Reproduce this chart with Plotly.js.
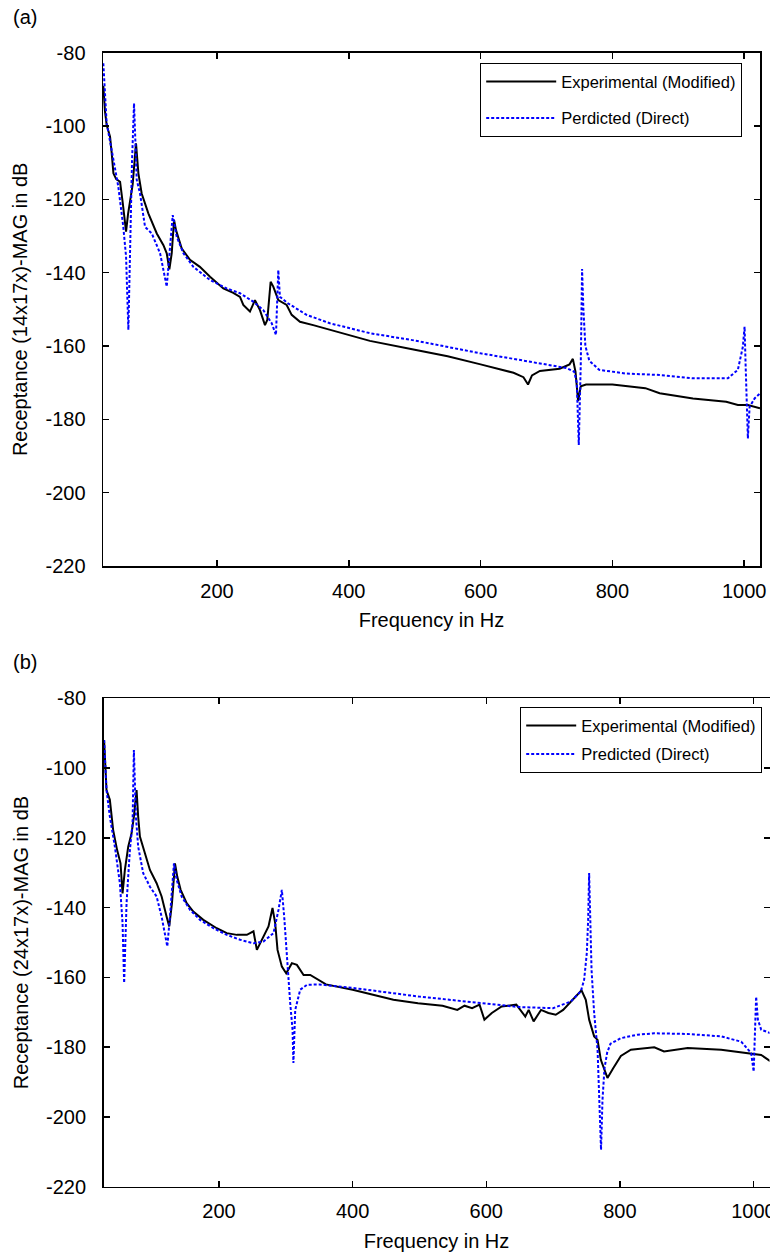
<!DOCTYPE html>
<html>
<head>
<meta charset="utf-8">
<script src="https://cdn.plot.ly/plotly-3.0.1.min.js"></script>
<style>html,body{margin:0;padding:0;background:#fff;}#chart{width:770px;height:1257px;}</style>
</head>
<body>
<div id="chart"></div>
<script>
// ---------- Panel (a) data ----------
const freqA_exp = [27.5,30,32.6,35,37.7,40,42.8,47,52.9,57,62,65,68,72,77.1,80.7,85.7,95.8,108.6,118.7,123.7,127.7,131.3,134.8,137.8,146.5,159,174,189.4,209.6,224.7,234.9,239.9,250,257.6,265.2,272.8,276.3,281.4,285.4,293,305.7,313.3,325.9,346,371.3,411.8,432,500,550,600,630,650,665,672,678,690,720,735,740,744,748,752,760,800,850,871.7,922.2,972.8,990.4,1005.6,1024];
const magA_exp  = [-89,-96,-99.7,-101.5,-102.9,-107,-112.9,-114.5,-115.2,-121,-128.8,-124,-120.2,-116,-104.7,-112.9,-118.4,-123.8,-129.3,-132.5,-134.7,-139.1,-134.7,-125.6,-128.4,-133.4,-136.5,-138.4,-141.1,-144.3,-145.5,-146.6,-148.8,-150.6,-147.5,-150.2,-154.3,-152.9,-142.5,-143.8,-147.5,-148.8,-151.5,-153.4,-154.3,-155.6,-157.5,-158.6,-161,-162.8,-165,-166.5,-167.3,-168.5,-170.5,-168,-166.8,-166.2,-165,-163.5,-167,-175,-171,-170.5,-170.5,-171.5,-172.9,-174.3,-175.2,-176.1,-176.1,-177];
const freqA_pred = [27.5,32.6,40.1,50.2,57.8,62,65.5,68,71,74.1,78.2,83.2,90.8,101,113.6,123.7,132.8,138.9,149,164.1,189.4,214.7,234.9,255,270.2,283,289.5,293,295.5,308.1,336,371.3,432,500,600,650,700,730,742,746,749,752,754,756,759,765,780,820,871.7,922.2,975.3,990.4,998,1000.6,1002.1,1005.6,1008.2,1015.8,1024];
const magA_pred  = [-82.9,-99.3,-106.5,-116.5,-127.5,-135.6,-155.6,-131.1,-110,-93.8,-114.7,-118.4,-127.5,-129.3,-134.7,-143.8,-124.3,-130.2,-134.7,-138.4,-142,-144.3,-145.6,-147.9,-150.2,-153.8,-157,-139.3,-146.6,-148.4,-151.5,-153.8,-156.5,-158.5,-162,-163.5,-165,-166,-167,-170,-187,-165,-139,-150,-160,-164,-166.5,-167.5,-167.9,-168.8,-168.8,-166.5,-160.2,-154.7,-164.7,-185.2,-176.6,-174.3,-172.9];

// ---------- Panel (b) data ----------
const freqB_exp = [27.9,31.5,36.5,41.4,47.4,52.5,55.5,59,64,69,72.5,76.5,78.9,81.5,89,96.5,106.5,114,121.5,125.4,129.5,134,137.4,142.5,151.5,161.4,176.4,196.5,211.6,226.6,241.6,251.5,256.6,266.5,274,280,284,287.5,294,300.5,309,316.5,326.5,336.5,360,400,461,497.8,534.5,556.7,567.5,578.8,589.9,597.2,608.3,623,645,658.4,663.5,670.9,682,693,704,715.1,729.8,742.6,749,754,761.5,766.6,771.5,781.4,790,801.5,816.5,851.5,866.1,901.6,951.6,991.6,1011.6,1025];
const magB_exp  = [-92,-106.3,-109.1,-117.7,-123.5,-127.3,-135.9,-129.2,-122.5,-118.7,-113.9,-106.3,-113.9,-119.6,-124.4,-129.2,-133,-136.8,-142.6,-145.4,-138.7,-127.3,-131.1,-134.9,-138.7,-141.1,-143.5,-145.9,-147.3,-147.8,-147.8,-146.8,-152.1,-148.3,-145.4,-140.1,-144.4,-152.1,-156.9,-158.8,-155.9,-156.4,-159.3,-159.3,-162,-163.5,-166.4,-167.4,-168.1,-169.3,-168.1,-168.8,-167.8,-172.1,-170.2,-168.3,-167.8,-171.2,-169.3,-172.6,-169.3,-170.2,-170.7,-169.3,-166.4,-163.7,-166.4,-172.1,-176.9,-177.9,-183.6,-188.8,-186,-182.5,-180.7,-180,-181.2,-180.2,-180.7,-181.7,-182.2,-184];
const freqB_pred = [27.9,31.5,36.5,44,51.5,55.5,57.9,61.5,66.5,70.5,72.5,75.5,78.9,86.4,96.5,106.5,114,122.5,126.5,132.5,136.5,144,156.5,171.5,191.5,211.6,231.5,251.5,266.5,281.5,289,294,297.5,301.5,306.5,310,311.3,314,321.5,331.6,350,400,500,600,650,700,726.5,741.5,746.5,750.5,752.5,754,755.5,757.6,761.5,766.6,771.8,774,777,781,786,801.5,826.6,851.5,901.6,951.6,981.6,996.6,1000.3,1004,1006.6,1011.6,1026];
const magB_pred  = [-92,-106.3,-113.9,-122.5,-133,-144.4,-161.6,-138.7,-123.5,-115.8,-94.8,-113.9,-122.5,-130.1,-134,-136.8,-142.6,-151.1,-142.6,-127.3,-132,-136.8,-140.6,-143.5,-145.9,-147.8,-149.2,-150.2,-149.7,-147.3,-140.6,-134.9,-142.6,-154,-167.4,-175,-184.5,-169.3,-163.5,-162.1,-162,-163,-165.5,-167.5,-168.5,-168.8,-166.9,-164,-160.7,-153,-143.5,-130.1,-143.5,-157.8,-170.2,-180.7,-209.4,-195,-186,-181.5,-179,-177.4,-176.4,-176,-176.2,-176.9,-178.4,-181.7,-187,-165.5,-172.1,-175,-176];

const legendA = ["Experimental (Modified)", "Perdicted (Direct)"];
const legendB = ["Experimental (Modified)", "Predicted (Direct)"];
const xTicks = [200, 400, 600, 800, 1000];
const yTicks = [-220, -200, -180, -160, -140, -120, -100, -80];
const xTickText = xTicks.map(String);
const yTickText = yTicks.map(String);

const FONT = "Liberation Sans, Arial, Helvetica, sans-serif";
const expLine = {color: "#000000", width: 2};
const predLine = {color: "#0000FF", width: 2, dash: "3px,2px"};

const traces = [
  {x: freqA_exp, y: magA_exp, type: "scatter", mode: "lines", name: legendA[0], line: expLine, xaxis: "x", yaxis: "y", legend: "legend", legendgroup: "a1"},
  {x: freqA_pred, y: magA_pred, type: "scatter", mode: "lines", name: legendA[1], line: predLine, xaxis: "x", yaxis: "y", legend: "legend", legendgroup: "a2"},
  {x: freqB_exp, y: magB_exp, type: "scatter", mode: "lines", name: legendB[0], line: expLine, xaxis: "x2", yaxis: "y2", legend: "legend2", legendgroup: "b1"},
  {x: freqB_pred, y: magB_pred, type: "scatter", mode: "lines", name: legendB[1], line: predLine, xaxis: "x2", yaxis: "y2", legend: "legend2", legendgroup: "b2"}
];

const W = 770, H = 1257;
function axisX(domain, anchor) {
  return {
    domain: domain, anchor: anchor, range: [27, 1024],
    tickvals: xTicks, ticktext: xTickText, ticks: "inside", ticklen: 6, tickwidth: 1.5, tickcolor: "#000",
    showline: true, linecolor: "#000", linewidth: 1.5, mirror: "ticks",
    showgrid: false, zeroline: false,
    tickfont: {family: FONT, size: 20, color: "#000"},
    ticklabelstandoff: 6, ticklabeloverflow: "allow",
    title: {text: "Frequency in Hz", font: {family: FONT, size: 20, color: "#000"}, standoff: 12}
  };
}
function axisY(domain, anchor, title) {
  return {
    domain: domain, anchor: anchor, range: [-220, -80],
    tickvals: yTicks, ticktext: yTickText, ticks: "inside", ticklen: 6, tickwidth: 1.5, tickcolor: "#000",
    showline: true, linecolor: "#000", linewidth: 1.5, mirror: "ticks",
    showgrid: false, zeroline: false,
    tickfont: {family: FONT, size: 20, color: "#000"},
    ticklabelstandoff: 12, ticklabeloverflow: "allow",
    title: {text: title, font: {family: FONT, size: 20, color: "#000"}, standoff: 12}
  };
}

const layout = {
  width: W, height: H,
  margin: {l: 0, r: 0, t: 0, b: 0},
  paper_bgcolor: "#fff", plot_bgcolor: "#fff",
  font: {family: FONT, color: "#000"},
  showlegend: true,
  xaxis: axisX([103/W, 760/W], "y"),
  yaxis: axisY([1 - 566/H, 1 - 52.7/H], "x", "Receptance (14x17x)-MAG in dB"),
  xaxis2: axisX([103.5/W, 769.5/W], "y2"),
  yaxis2: axisY([1 - 1186.8/H, 1 - 698.3/H], "x2", "Receptance (24x17x)-MAG in dB"),
  legend: {
    x: 742/W, y: 1 - 63/H, xanchor: "right", yanchor: "top", xref: "paper", yref: "paper",
    bgcolor: "#fff", bordercolor: "#000", borderwidth: 1.2,
    font: {family: FONT, size: 16.5, color: "#000"}, itemwidth: 70, tracegroupgap: 12,
    traceorder: "grouped"
  },
  legend2: {
    x: 762/W, y: 1 - 707/H, xanchor: "right", yanchor: "top", xref: "paper", yref: "paper",
    bgcolor: "#fff", bordercolor: "#000", borderwidth: 1.2,
    font: {family: FONT, size: 16.5, color: "#000"}, itemwidth: 50, tracegroupgap: 4,
    traceorder: "grouped"
  },
  annotations: [
    {text: "(a)", x: 11/W, y: 1 - 17/H, xref: "paper", yref: "paper", xanchor: "left", yanchor: "middle", showarrow: false, font: {family: FONT, size: 20, color: "#000"}},
    {text: "(b)", x: 11/W, y: 1 - 662/H, xref: "paper", yref: "paper", xanchor: "left", yanchor: "middle", showarrow: false, font: {family: FONT, size: 20, color: "#000"}}
  ]
};

Plotly.newPlot("chart", traces, layout, {staticPlot: true, displayModeBar: false});
</script>
</body>
</html>
